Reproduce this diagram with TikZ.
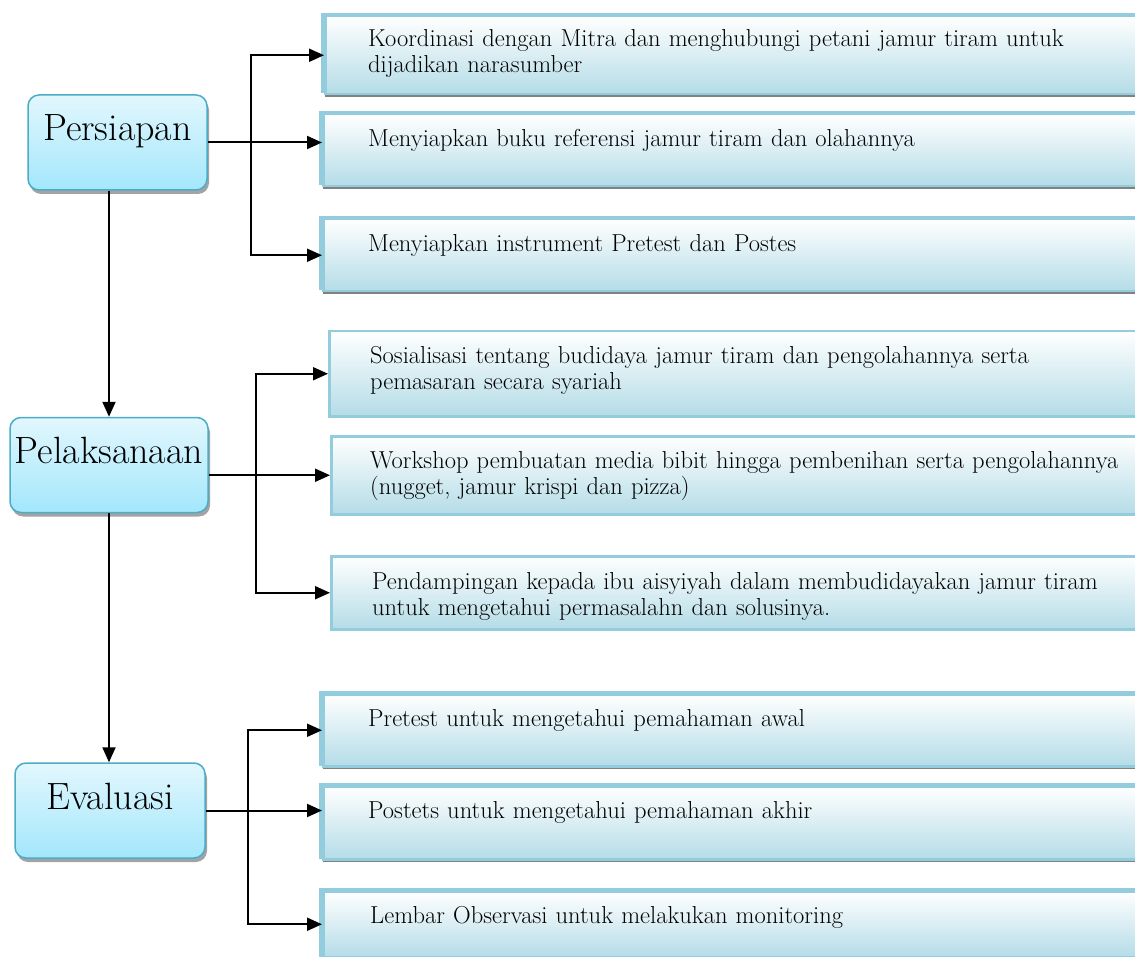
\documentclass[tikz,border=0pt]{standalone}
\usetikzlibrary{arrows.meta,shadows,calc}
\definecolor{itemline}{HTML}{93CDDD}
\definecolor{itembottom}{HTML}{B4DCE7}
\definecolor{stageline}{HTML}{4BACC6}
\definecolor{stagetop}{HTML}{E2F7FD}
\definecolor{stagebottom}{HTML}{A3E7FC}
\begin{document}
\begin{tikzpicture}[x=1pt, y=-1pt,
  stage/.style={draw=stageline, line width=1.5pt, rounded corners=11pt, top color=stagetop, bottom color=stagebottom, drop shadow={shadow xshift=2pt, shadow yshift=-4pt, fill=black!40, opacity=.9}, minimum height=95pt, inner sep=0pt, text height=25pt, text depth=28pt, font=\fontsize{38}{42}\selectfont},
  item/.style={draw=itemline, line width=2.5pt, top color=white, bottom color=itembottom, minimum width=814pt, anchor=north west, inner sep=0pt},
  stack/.style={item, copy shadow={shadow xshift=-3pt, shadow yshift=2pt, draw=itemline, fill=itembottom!80}, drop shadow={shadow xshift=0pt, shadow yshift=-3pt, fill=black!55, opacity=.9}},
  itemtext/.style={anchor=base west, inner sep=0pt, text width=765pt, align=left, font=\fontsize{24.5}{26}\selectfont},
  arr/.style={-{Triangle[length=15pt,width=13pt]}, line width=2pt},
  line/.style={line width=2pt}]
\useasboundingbox (0,0) rectangle (1135,957);

% tahapan
\node[stage, minimum width=179pt] (persiapan) at (117.5,142.5) {Persiapan};
\node[stage, minimum width=198pt] (pelaksanaan) at (109,465) {Pelaksanaan};
\node[stage, minimum width=190pt] (evaluasi) at (110,810.5) {Evaluasi};

% kegiatan persiapan
\node[stack, minimum height=78pt] (k1) at (324,15) {};
\node[stack, minimum height=72pt] (k2) at (322,113) {};
\node[stack, minimum height=72pt] (k3) at (322,218) {};
\node[itemtext] (k1t) at (368,47) {Koordinasi dengan Mitra dan menghubungi petani jamur tiram untuk\\dijadikan narasumber};
\node[itemtext] (k2t) at (368,147) {Menyiapkan buku referensi jamur tiram dan olahannya};
\node[itemtext] (k3t) at (368,252) {Menyiapkan instrument Pretest dan Postes};

% kegiatan pelaksanaan
\node[item, minimum height=85pt] (l1) at (328,330) {};
\node[item, minimum height=78pt] (l2) at (330,435) {};
\node[item, minimum height=73pt] (l3) at (330,555) {};
\node[itemtext] (l1t) at (370,363) {Sosialisasi tentang budidaya jamur tiram dan pengolahannya serta\\pemasaran secara syariah};
\node[itemtext] (l2t) at (370,468) {Workshop pembuatan media bibit hingga pembenihan serta pengolahannya\\(nugget, jamur krispi dan pizza)};
\node[itemtext] (l3t) at (372,589) {Pendampingan kepada ibu aisyiyah dalam membudidayakan jamur tiram\\untuk mengetahui permasalahn dan solusinya.};

% kegiatan evaluasi
\node[stack, minimum height=72pt] (e1) at (322,693) {};
\node[stack, minimum height=73pt] (e2) at (322,785) {};
\node[stack, minimum height=66pt] (e3) at (322,890) {};
\node[itemtext] (e1t) at (368,726) {Pretest untuk mengetahui pemahaman awal};
\node[itemtext] (e2t) at (368,818) {Postets untuk mengetahui pemahaman akhir};
\node[itemtext] (e3t) at (370,923) {Lembar Observasi untuk melakukan monitoring};

% alur utama
\draw[arr] (persiapan.south -| pelaksanaan.north) -- (pelaksanaan.north);
\draw[arr] (pelaksanaan.south) -- (pelaksanaan.south |- evaluasi.north);

% cabang
\coordinate (pj) at ($(persiapan.east)+(43,0)$);
\draw[line] (persiapan.east) -- (pj);
\draw[arr] (pj) |- (k1.west);
\draw[arr] (pj) -- (pj -| k2.west);
\draw[arr] (pj) |- (k3.west);

\coordinate (lj) at ($(pelaksanaan.east |- l2.west)+(47,0)$);
\draw[line] (pelaksanaan.east |- l2.west) -- (lj);
\draw[arr] (lj) |- (l1.west);
\draw[arr] (lj) -- (l2.west);
\draw[arr] (lj) |- (l3.west);

\coordinate (ej) at ($(evaluasi.east)+(42,0)$);
\draw[line] (evaluasi.east) -- (ej);
\draw[arr] (ej) |- (e1.west);
\draw[arr] (ej) -- (ej -| e2.west);
\draw[arr] (ej) |- (e3.west);
\end{tikzpicture}
\end{document}
